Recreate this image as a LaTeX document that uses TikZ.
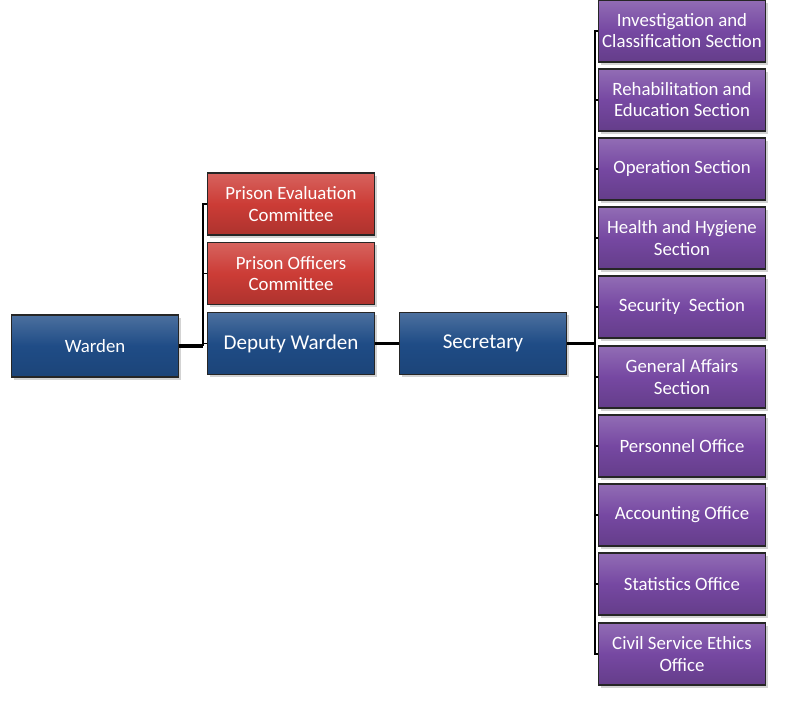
\documentclass[tikz,border=0pt]{standalone}
\usepackage{fontspec}
\setmainfont{Carlito}
\usetikzlibrary{shadows}
\definecolor{boxblue}{RGB}{31,76,134}
\definecolor{boxred}{RGB}{204,60,54}
\definecolor{boxpurple}{RGB}{118,72,162}
\begin{document}
\begin{tikzpicture}[
	x=0.02cm, y=-0.02cm,
	font=\fontsize{10.7}{12}\selectfont
]
\tikzset{
    mybox/.style = {rectangle, draw=black!85, line width=0.6pt, align=center, text=white,
        minimum width=3.34cm, minimum height=1.24cm, inner sep=1pt,
        drop shadow={opacity=0.35, shadow xshift=1.5pt, shadow yshift=-1.5pt}},
    boxb/.style = {mybox, top color=boxblue!80!white, bottom color=boxblue!90!black,
        middle color=boxblue},
    boxr/.style = {mybox, top color=boxred!80!white, bottom color=boxred!85!black,
        middle color=boxred},
    boxp/.style = {mybox, top color=boxpurple!80!white, bottom color=boxpurple!85!black,
        middle color=boxpurple},
    lnk/.style = {-, line width=1.1pt, black},
    lnkt/.style = {-, line width=2.2pt, black},
}
\useasboundingbox (0,0) rectangle (788,720);
%
\node[boxb] at (95, 346) (warden) {Warden};
\node[boxr] at (291, 204) (pec) {Prison Evaluation\\Committee};
\node[boxr] at (291, 273.5) (poc) {Prison Officers\\Committee};
\node[boxb, font=\fontsize{12}{13}\selectfont] at (291, 343.5) (deputy) {Deputy Warden};
\node[boxb, font=\fontsize{12}{13}\selectfont] at (483, 343.5) (secretary) {Secretary};
%
\node[boxp] at (682, 31) (invest) {Investigation and\\Classification Section};
\node[boxp] at (682, 100) (rehab) {Rehabilitation and\\Education Section};
\node[boxp] at (682, 169) (oper) {Operation Section};
\node[boxp] at (682, 238) (health) {Health and Hygiene\\Section};
\node[boxp] at (682, 307) (secur) {Security~ Section};
\node[boxp] at (682, 377) (general) {General Affairs\\Section};
\node[boxp] at (682, 446) (person) {Personnel Office};
\node[boxp] at (682, 515) (account) {Accounting Office};
\node[boxp] at (682, 584) (stats) {Statistics Office};
\node[boxp] at (682, 654) (ethics) {Civil Service Ethics\\Office};
%
\coordinate (busa) at (203, 346);
\coordinate (busb) at (595, 343.5);
%
\draw[lnkt] (warden) -- (busa);
\foreach \n in {pec, poc, deputy}
    \draw[lnk] (busa) |- (\n.west);
\draw[lnkt] (deputy) -- (secretary);
\draw[lnkt] (secretary) -- (busb);
\foreach \n in {invest, rehab, oper, health, secur, general, person, account, stats, ethics}
    \draw[lnk] (busb) |- (\n.west);
\end{tikzpicture}
\end{document}
